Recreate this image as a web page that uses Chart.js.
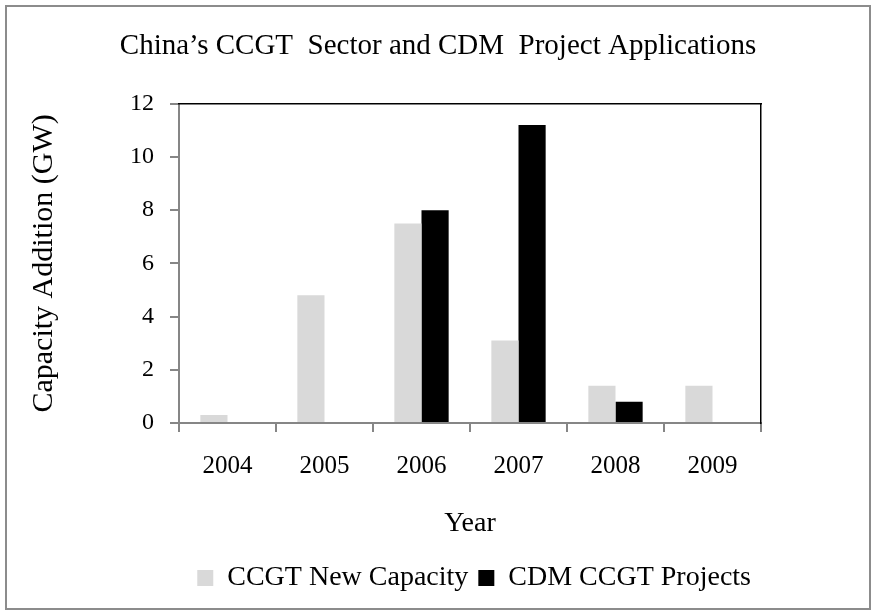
<!DOCTYPE html>
<html>
<head>
<meta charset="utf-8">
<script src="https://cdn.jsdelivr.net/npm/chart.js@4.4.0/dist/chart.umd.min.js"></script>
<style>
html, body { margin: 0; padding: 0; background: #fff; }
#wrap { position: relative; width: 876px; height: 615px; }
#wrap canvas { position: absolute; left: 0; top: 0; }
#frame { position: absolute; left: 5px; top: 5px; width: 866px; height: 605px; border: 2px solid #8c8c8c; box-sizing: border-box; pointer-events: none; }
</style>
</head>
<body>
<div id="wrap">
	<canvas id="chart" width="876" height="615"></canvas>
	<div id="frame"></div>
</div>
<script>
var years = ["2004", "2005", "2006", "2007", "2008", "2009"];
var ccgt_new_capacity = [0.3, 4.8, 7.5, 3.1, 1.4, 1.4];
var cdm_ccgt_projects = [0, 0, 8.0, 11.2, 0.8, 0];
var y_min = 0;
var y_max = 12;
var y_step = 2;

var serif = "'Liberation Serif', 'Times New Roman', serif";
var axis_grey = "#868686";

Chart.defaults.font.family = serif;
Chart.defaults.color = "#000";

var params = {
	type: 'bar',
	data: {
		labels: years,
		datasets: [{
			label: "CCGT New Capacity",
			data: ccgt_new_capacity,
			backgroundColor: "#d9d9d9",
			borderWidth: 0
		}, {
			label: "CDM CCGT Projects",
			data: cdm_ccgt_projects,
			backgroundColor: "#000000",
			borderWidth: 0
		}]
	},
	options: {
		responsive: false,
		animation: false,
		devicePixelRatio: 1,
		categoryPercentage: 0.56,
		barPercentage: 1,
		layout: { padding: { left: 0, right: 0, top: 0, bottom: 13 } },
		plugins: {
			tooltip: { enabled: false },
			title: {
				display: true,
				text: "China\u2019s CCGT  Sector and CDM  Project Applications",
				font: { size: 29, weight: 'normal' },
				color: "#000",
				padding: { top: 29, bottom: 40 }
			},
			legend: {
				position: 'bottom',
				fullSize: false,
				align: 'end',
				labels: {
					boxWidth: 16,
					boxHeight: 16,
					padding: 10,
					color: "#000",
					font: { size: 28 }
				}
			}
		},
		scales: {
			x: {
				position: 'bottom',
				grid: { display: true, drawOnChartArea: false, drawTicks: true, tickLength: 9, color: axis_grey, lineWidth: 2, offset: true },
				border: { display: true, color: axis_grey, width: 2 },
				ticks: { font: { size: 25 }, color: "#000", padding: 19, maxRotation: 0 },
				title: { display: true, text: "Year", font: { size: 28 }, color: "#000", padding: { top: 0, bottom: 14 } },
				afterFit: function(s) { s.height = 131; }
			},
			y: {
				position: 'left',
				min: y_min,
				max: y_max,
				grid: { display: true, drawOnChartArea: false, drawTicks: true, tickLength: 9, color: axis_grey, lineWidth: 2 },
				border: { display: true, color: axis_grey, width: 2 },
				ticks: { stepSize: y_step, font: { size: 24 }, color: "#000", padding: 16 },
				title: { display: true, text: "Capacity Addition (GW)", font: { size: 30 }, color: "#000", padding: { top: 26, bottom: 0 } },
				afterFit: function(s) { s.width = 179; }
			},
			x_top: {
				type: 'category',
				labels: years,
				position: 'top',
				grid: { display: false },
				ticks: { display: false },
				border: { display: true, color: "#000", width: 1.5 },
				afterFit: function(s) { s.height = 0; }
			},
			y_right: {
				type: 'linear',
				position: 'right',
				grid: { display: false },
				ticks: { display: false },
				border: { display: true, color: "#000", width: 1.5 },
				afterFit: function(s) { s.width = 115; }
			}
		}
	}
};

new Chart(document.getElementById("chart"), params);
</script>
</body>
</html>
